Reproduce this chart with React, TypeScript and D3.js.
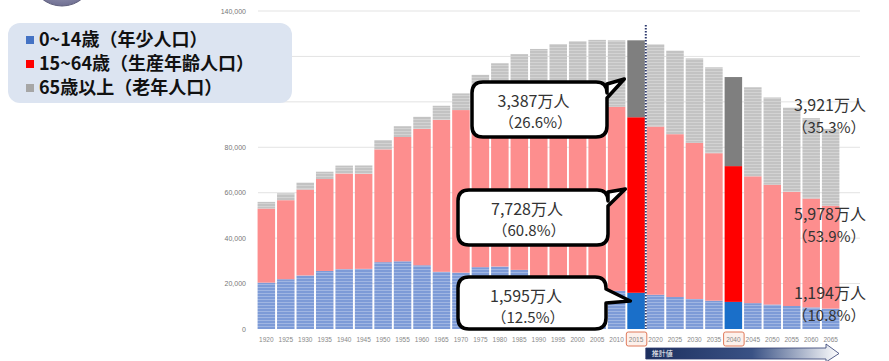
import React from "react";
import * as d3 from "d3";

const years = [1920,1925,1930,1935,1940,1945,1950,1955,1960,1965,1970,1975,1980,1985,1990,1995,2000,2005,2010,2015,2020,2025,2030,2035,2040,2045,2050,2055,2060,2065];
const age0to14 = [20416,21924,23579,25545,26369,26477,29428,29798,28067,25166,24823,27221,27507,26033,22486,20014,18472,17521,16803,15945,15075,14073,13212,12457,11936,11384,10767,10123,9508,8975];
const age15to64 = [32605,34792,37807,40484,42085,41821,49658,54729,60002,66928,71566,75807,78835,82506,85904,87165,86220,84092,81032,77282,74058,71701,68754,64942,59777,55845,52750,50276,47928,45291];
const age65plus = [2941,3021,3064,3225,3479,3700,4109,4747,5350,6181,7331,8865,10647,12468,14895,18261,22005,25672,29246,33868,36192,36771,37160,37817,39206,39192,38406,37042,35403,33810];
const highlightYears = [2015, 2040];
const yTicks = [0,20000,40000,60000,80000,100000,120000,140000];
// 100,000 and 120,000 labels are hidden behind the legend in the reference
const yTickLabels = [0,20000,40000,60000,80000,140000];
const legendLabels = ["0~14歳（年少人口）", "15~64歳（生産年齢人口）", "65歳以上（老年人口）"];
const callouts2015 = [
  { value: "3,387万人", pct: "（26.6%）" },
  { value: "7,728万人", pct: "（60.8%）" },
  { value: "1,595万人", pct: "（12.5%）" },
];
const labels2040 = [
  { value: "3,921万人", pct: "（35.3%）" },
  { value: "5,978万人", pct: "（53.9%）" },
  { value: "1,194万人", pct: "（10.8%）" },
];
const projectionLabel = "推計値";

const W = 889, H = 361;
const JP = "'Noto Sans CJK JP', 'Noto Sans', sans-serif";

function calloutPath(x: number, y: number, w: number, h: number, r: number, ty1: number, ty2: number, tx: number, tyy: number) {
  return [
    `M${x + r},${y}`,
    `H${x + w - r}`,
    `Q${x + w},${y} ${x + w},${y + r}`,
    `L${x + w},${y + ty1}`,
    `L${tx},${tyy}`,
    `L${x + w},${y + ty2}`,
    `V${y + h - r}`,
    `Q${x + w},${y + h} ${x + w - r},${y + h}`,
    `H${x + r}`,
    `Q${x},${y + h} ${x},${y + h - r}`,
    `V${y + r}`,
    `Q${x},${y} ${x + r},${y}`,
    "Z",
  ].join(" ");
}

export default function App() {
  const x = d3.scaleBand<number>().domain(years).range([257, 840]).paddingInner(0.1).paddingOuter(0.03);
  const y = d3.scaleLinear().domain([0, 140000]).range([329, 11]);
  const bw = x.bandwidth();

  const rows = years.map((yr, i) => ({ yr, a: age0to14[i], b: age15to64[i], c: age65plus[i] }));
  const stack = d3.stack<any>().keys(["a", "b", "c"])(rows as any);

  const normalFill = ["url(#blueStripe)", "#fd8e8e", "url(#grayStripe)"];
  const hiFill = ["#1a6fc9", "#ff0000", "#7f7f7f"];

  const dashX = (x(2015)! + bw + x(2020)!) / 2;
  const x2015 = x(2015)!;

  const callBoxes = [
    { bx: 472, by: 82, w: 135, h: 55, ty1: 2, ty2: 16, tx: x2015 - 3, ty: 79 },
    { bx: 458, by: 190, w: 150, h: 55, ty1: 2, ty2: 16, tx: x2015 - 2, ty: 189 },
    { bx: 458, by: 277, w: 148, h: 52, ty1: 12, ty2: 26, tx: x2015 + 3, ty: 301 },
  ];

  const rightLabelY = [105, 214, 293];

  return (
    <svg width={W} height={H} style={{ position: "absolute", left: 0, top: 0, background: "#fff" }}>
      <defs>
        <pattern id="blueStripe" width="6" height="3" patternUnits="userSpaceOnUse">
          <rect width="6" height="3" fill="#7d9bd7" />
          <rect y="2" width="6" height="1" fill="#a0b6e2" />
        </pattern>
        <pattern id="grayStripe" width="6" height="3" patternUnits="userSpaceOnUse">
          <rect width="6" height="3" fill="#c3c3c3" />
          <rect y="2" width="6" height="1" fill="#d3d3d3" />
        </pattern>
        <linearGradient id="arrowGrad" x1="0" x2="1" y1="0" y2="0">
          <stop offset="0" stopColor="#1c2f5e" />
          <stop offset="0.55" stopColor="#3a5285" />
          <stop offset="1" stopColor="#ffffff" />
        </linearGradient>
        <radialGradient id="circGrad" cx="0.5" cy="0.3" r="0.7">
          <stop offset="0" stopColor="#e8e8f4" />
          <stop offset="1" stopColor="#6f6f92" />
        </radialGradient>
      </defs>

      <ellipse cx={62} cy={-22} rx={30} ry={28} fill="url(#circGrad)" stroke="#5c5c7a" strokeWidth={1} />

      {yTicks.filter(t => t > 0).map(t => (
        <line key={t} x1={258} x2={860} y1={y(t)} y2={y(t)} stroke="#e3e3e3" strokeWidth={1} />
      ))}
      {yTickLabels.map(t => (
        <text key={t} x={246} y={y(t) + 2.5} textAnchor="end" fontSize={7} fill="#777" fontFamily="Arial, 'Liberation Sans', sans-serif">
          {d3.format(",")(t)}
        </text>
      ))}

      {stack.map((layer, li) =>
        layer.map((d, i) => {
          const yr = years[i];
          const hi = highlightYears.includes(yr);
          return (
            <rect key={`${li}-${yr}`} x={x(yr)} y={y(d[1])} width={bw} height={y(d[0]) - y(d[1])}
              fill={hi ? hiFill[li] : normalFill[li]} />
          );
        })
      )}

      <line x1={dashX} x2={dashX} y1={25} y2={329} stroke="#2e3a6e" strokeWidth={2} strokeDasharray="1.5,1.5" />

      {years.map(yr => {
        const hi = highlightYears.includes(yr);
        const cx = x(yr)! + bw / 2;
        return (
          <g key={yr}>
            {hi && <rect x={x(yr)! - 1} y={332} width={bw + 3} height={14} rx={2} fill="#fdf1ec" stroke="#e07a5a" strokeWidth={1} />}
            <text x={cx} y={342} textAnchor="middle" fontSize={6.5} fill="#888" fontFamily="Arial, 'Liberation Sans', sans-serif">{yr}</text>
          </g>
        );
      })}

      <path d={`M${dashX},348 H826 V344 L839,353.5 L826,362 V359 H${dashX} Z`} fill="url(#arrowGrad)" stroke="#2e3a6e" strokeWidth={0.8} />
      <text x={dashX + 6} y={356} fontSize={7} fill="#fff" fontFamily={JP}>{projectionLabel}</text>

      {callBoxes.map((c, i) => (
        <g key={i}>
          <path d={calloutPath(c.bx, c.by, c.w, c.h, 11, c.ty1, c.ty2, c.tx, c.ty)} fill="#fff" stroke="#000" strokeWidth={3.5} strokeLinejoin="round" />
          <text x={c.bx + c.w / 2 - 6} y={c.by + 25} textAnchor="middle" fontSize={16} fill="#333" fontFamily={JP}>{callouts2015[i].value}</text>
          <text x={c.bx + c.w / 2 - 4} y={c.by + 46} textAnchor="middle" fontSize={15} fill="#333" fontFamily={JP}>{callouts2015[i].pct}</text>
        </g>
      ))}

      {labels2040.map((l, i) => (
        <g key={i}>
          <text x={830} y={rightLabelY[i] + 6} textAnchor="middle" fontSize={16} fill="#333" fontFamily={JP}>{l.value}</text>
          <text x={829} y={rightLabelY[i] + 28} textAnchor="middle" fontSize={15} fill="#333" fontFamily={JP}>{l.pct}</text>
        </g>
      ))}

      <rect x={8} y={23} width={284} height={80} rx={12} fill="#dce4f1" />
      {legendLabels.map((lab, i) => (
        <g key={lab}>
          <rect x={26} y={36 + i * 24} width={8} height={8} fill={["#4472c4", "#ff0000", "#a6a6a6"][i]} />
          <text x={39} y={46 + i * 24} fontSize={18} fontWeight="bold" fill="#111" fontFamily={JP}>{lab}</text>
        </g>
      ))}
    </svg>
  );
}
